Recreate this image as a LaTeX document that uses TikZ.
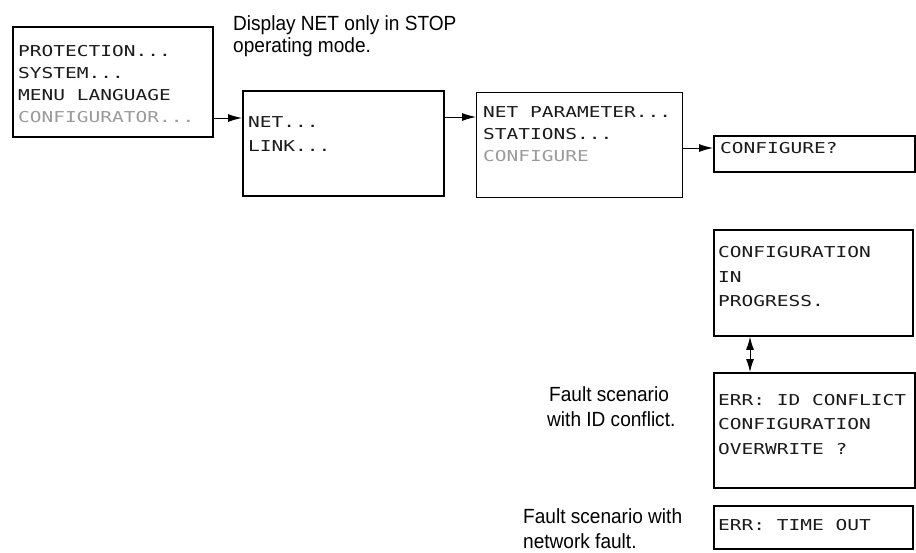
\documentclass[tikz,border=0pt]{standalone}
\usepackage{fontspec}
\setmainfont{Liberation Sans}
\newfontfamily\notefont[FakeStretch=0.93]{Liberation Sans}
\newfontfamily\lcdfont[FakeStretch=1.3]{DejaVu Sans Mono}
\usetikzlibrary{arrows.meta}
\definecolor{lcdgray}{HTML}{9A9A9A}
\definecolor{lcdink}{HTML}{1A1A1A}
\tikzset{
  box/.style={draw=black, line width=1.8pt, inner sep=0pt, anchor=north west},
  thinbox/.style={box, line width=1.2pt},
  lcd/.style={inner sep=0pt, anchor=base west, text=lcdink, font=\lcdfont\fontsize{15pt}{15pt}\selectfont},
  lcdoff/.style={lcd, text=lcdgray},
  note/.style={inner sep=0pt, anchor=base west, font=\notefont\fontsize{20.5pt}{22pt}\selectfont},
  arr/.style={line width=1pt, -{Latex[length=14pt,width=8pt]}},
  dblarr/.style={line width=1pt, {Latex[length=13pt,width=8pt]}-{Latex[length=13pt,width=8pt]}}
}
\begin{document}
\begin{tikzpicture}[x=1pt,y=-1pt]
\useasboundingbox (0,0) rectangle (916,552);
% boxes
\node[box, minimum width=200pt, minimum height=110pt] (b1) at (12,26) {};
\node[box, minimum width=201pt, minimum height=105pt] (b2) at (242,90) {};
\node[thinbox, minimum width=206pt, minimum height=105pt] (b3) at (476,92) {};
\node[box, minimum width=201pt, minimum height=36pt] (b4) at (713,135) {};
\node[box, minimum width=199pt, minimum height=106pt] (b5) at (713,229) {};
\node[box, minimum width=201pt, minimum height=115pt] (b6) at (713,372) {};
\node[box, minimum width=199pt, minimum height=43pt] (b7) at (713,505) {};
% box 1 text
\node[lcd] (t11) at (18,56.5) {PROTECTION...};
\node[lcd] (t12) at (18,78.5) {SYSTEM...};
\node[lcd] (t13) at (18,100.5) {MENU LANGUAGE};
\node[lcdoff] (t14) at (18,122.5) {CONFIGURATOR...};
% box 2 text
\node[lcd] (t21) at (248,127.5) {NET...};
\node[lcd] (t22) at (248,151.5) {LINK...};
% box 3 text
\node[lcd] (t31) at (483,117.5) {NET PARAMETER...};
\node[lcd] (t32) at (483,139.5) {STATIONS...};
\node[lcdoff] (t33) at (483,161.5) {CONFIGURE};
% box 4 text
\node[lcd] (t41) at (720,153.5) {CONFIGURE?};
% box 5 text
\node[lcd] (t51) at (718,257.5) {CONFIGURATION};
\node[lcd] (t52) at (718,282.5) {IN};
\node[lcd] (t53) at (718,306.5) {PROGRESS.};
% box 6 text
\node[lcd] (t61) at (718,405.5) {ERR: ID CONFLICT};
\node[lcd] (t62) at (718,429.5) {CONFIGURATION};
\node[lcd] (t63) at (718,454.5) {OVERWRITE ?};
% box 7 text
\node[lcd] (t71) at (718,530.5) {ERR: TIME OUT};
% notes
\node[note] (n1a) at (233,30) {Display NET only in STOP};
\node[note] (n1b) at (233,52) {operating mode.};
\node[note] (n2a) at (549,401) {Fault scenario};
\node[note] (n2b) at (547,426) {with ID conflict.};
\node[note] (n3a) at (523,523) {Fault scenario with};
\node[note] (n3b) at (523,548) {network fault.};
% connectors
\draw[arr] (b1.east |- 0,118) -- (b2.west |- 0,118);
\draw[arr] (b2.east |- 0,117) -- (b3.west |- 0,117);
\draw[arr] (b3.east |- 0,148) -- (b4.west |- 0,148);
\draw[dblarr] (b5.south -| 750,0) -- (b6.north -| 750,0);
\end{tikzpicture}
\end{document}
